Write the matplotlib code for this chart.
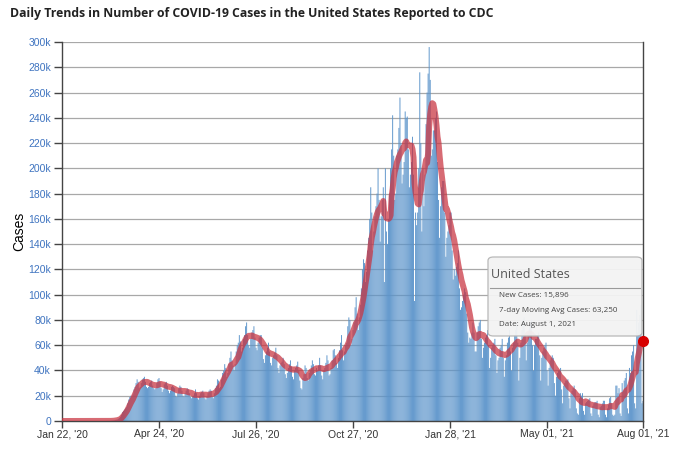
import matplotlib
matplotlib.use("Agg")
import matplotlib.pyplot as plt
from matplotlib.patches import FancyBboxPatch
from matplotlib.lines import Line2D
import pandas as pd

# daily new cases in thousands, one row per week (Wed..Tue), starting Jan 22, 2020
new_cases_k = [
    0, 0, 0, 0, 0, 0, 0,                # Jan 22
    0, 0, 0, 0, 0, 0, 0,                # Jan 29
    0, 0, 0, 0, 0, 0, 0,                # Feb 5
    0, 0, 0, 0, 0, 0, 0,                # Feb 12
    0, 0, 0, 0, 0, 0, 0,                # Feb 19
    0, 0, 0, 0, 0, 0.01, 0.02,          # Feb 26
    0.03, 0.05, 0.07, 0.1, 0.1, 0.2, 0.3,   # Mar 4
    0.4, 0.5, 0.8, 1.0, 1.2, 1.8, 2.5,  # Mar 11
    3.5, 5, 7, 8, 9, 10, 11,            # Mar 18
    14, 17, 19, 20, 19, 21, 25,         # Mar 25
    27, 30, 33, 31, 26, 27, 30,         # Apr 1
    33, 34, 35, 31, 27, 26, 27,         # Apr 8
    30, 31, 32, 28, 26, 25, 26,         # Apr 15
    30, 33, 34, 31, 26, 23, 25,         # Apr 22
    29, 30, 31, 28, 24, 22, 24,         # Apr 29
    27, 28, 27, 26, 20, 19, 22,         # May 6
    26, 28, 27, 24, 20, 19, 22,         # May 13
    24, 26, 25, 22, 19, 18, 19,         # May 20
    20, 22, 25, 22, 18, 17, 20,         # May 27
    22, 23, 24, 22, 18, 17, 19,         # Jun 3
    22, 24, 25, 24, 19, 18, 22,         # Jun 10
    26, 28, 33, 32, 26, 27, 33,         # Jun 17
    38, 40, 45, 42, 35, 38, 45,         # Jun 24
    50, 55, 48, 44, 40, 45, 55,         # Jul 1
    60, 62, 68, 63, 55, 58, 65,         # Jul 8
    68, 75, 78, 68, 60, 58, 65,         # Jul 15
    70, 72, 75, 66, 58, 56, 62,         # Jul 22
    66, 68, 68, 58, 49, 46, 52,         # Jul 29
    55, 58, 62, 55, 46, 44, 50,         # Aug 5
    52, 54, 58, 52, 42, 38, 44,         # Aug 12
    46, 47, 50, 45, 37, 34, 38,         # Aug 19
    42, 45, 48, 43, 35, 33, 40,         # Aug 26
    42, 44, 47, 40, 32, 26, 25,         # Sep 2
    34, 37, 44, 42, 34, 32, 38,         # Sep 9
    40, 44, 48, 45, 37, 36, 42,         # Sep 16
    40, 44, 50, 44, 36, 33, 40,         # Sep 23
    42, 46, 52, 48, 36, 37, 42,         # Sep 30
    48, 56, 57, 52, 46, 42, 50,         # Oct 7
    56, 62, 68, 56, 48, 55, 60,         # Oct 14
    62, 75, 82, 80, 60, 65, 72,         # Oct 21
    78, 90, 98, 85, 72, 82, 92,         # Oct 28
    105, 120, 128, 125, 110, 118, 135,  # Nov 4
    145, 160, 185, 165, 135, 150, 162,  # Nov 11
    170, 180, 200, 175, 142, 162, 175,  # Nov 18
    185, 110, 200, 150, 140, 160, 180,  # Nov 25
    200, 215, 242, 210, 175, 180, 210,  # Dec 2
    215, 232, 256, 220, 188, 195, 205,  # Dec 9
    245, 240, 241, 215, 185, 195, 205,  # Dec 16
    225, 195, 95, 165, 155, 165, 200,   # Dec 23
    276, 220, 150, 200, 170, 195, 235,  # Dec 30
    260, 275, 296, 270, 210, 215, 230,  # Jan 6, 2021
    230, 240, 245, 205, 175, 145, 170,  # Jan 13
    185, 190, 190, 165, 130, 145, 150,  # Jan 20
    155, 165, 165, 135, 112, 120, 115,  # Jan 27
    122, 125, 135, 105, 88, 90, 95,     # Feb 3
    100, 105, 102, 85, 70, 62, 66,      # Feb 10
    65, 70, 78, 70, 55, 55, 70,         # Feb 17
    75, 78, 80, 65, 50, 58, 62,         # Feb 24
    66, 68, 72, 60, 42, 50, 58,         # Mar 3
    60, 62, 65, 52, 38, 48, 50,         # Mar 10
    58, 60, 65, 50, 35, 48, 52,         # Mar 17
    62, 66, 72, 55, 40, 58, 62,         # Mar 24
    68, 72, 78, 62, 32, 50, 62,         # Mar 31
    72, 80, 82, 68, 48, 62, 70,         # Apr 7
    75, 78, 80, 60, 40, 60, 65,         # Apr 14
    65, 68, 70, 52, 32, 50, 55,         # Apr 21
    58, 60, 62, 40, 28, 42, 48,         # Apr 28
    50, 52, 50, 30, 20, 35, 38,         # May 5
    40, 40, 42, 25, 14, 28, 30,         # May 12
    32, 32, 33, 18, 10, 22, 24,         # May 19
    26, 28, 25, 10, 6, 5, 18,           # May 26
    22, 20, 22, 8, 5, 14, 15,           # Jun 2
    16, 17, 18, 6, 4, 12, 14,           # Jun 9
    15, 15, 16, 5, 3, 11, 12,           # Jun 16
    14, 16, 16, 5, 3, 10, 13,           # Jun 23
    18, 19, 14, 5, 4, 5, 28,            # Jun 30
    28, 22, 26, 6, 4, 30, 24,           # Jul 7
    32, 34, 38, 10, 6, 42, 38,          # Jul 14
    52, 55, 60, 14, 10, 88, 70,         # Jul 21
    78, 84, 92, 14, 15.896,             # Jul 28 .. Aug 1
]
start_date = "2020-01-22"

tick_dates = ["2020-01-22", "2020-04-24", "2020-07-26", "2020-10-27",
              "2021-01-28", "2021-05-01", "2021-08-01"]
tick_labels = ["Jan 22, '20", "Apr 24, '20", "Jul 26, '20", "Oct 27, '20",
               "Jan 28, '21", "May 01, '21", "Aug 01, '21"]
y_ticks_k = list(range(0, 301, 20))

tooltip_title = "United States"
tooltip_lines = ["New Cases: 15,896",
                 "7-day Moving Avg Cases: 63,250",
                 "Date: August 1, 2021"]

# build series
dates = pd.date_range(start_date, periods=len(new_cases_k), freq="D")
cases = pd.Series(new_cases_k, index=dates) * 1000
avg7 = cases.rolling(7, min_periods=1).mean()

W, H = 690, 454
fig = plt.figure(figsize=(W / 100, H / 100), dpi=100)
ax = fig.add_axes([62 / W, 1 - 421 / H, (643 - 62) / W, (421 - 42) / H])

bars = ax.bar(dates, cases.values, width=0.88, color="#5a93ca",
              linewidth=0, zorder=2)
for b in bars:
    b.set_snap(False)
ax.plot(dates, avg7.values, color="#c8323f", alpha=0.72, linewidth=4.3,
        solid_capstyle="round", zorder=3)
ax.plot(dates[-1], avg7.values[-1], "o", color="#d70000", markersize=7,
        zorder=5, clip_on=False)

ax.set_xlim(dates[0], dates[-1])
ax.set_ylim(0, 300000)

ax.set_yticks([v * 1000 for v in y_ticks_k])
ax.set_yticklabels([f"{v}k" if v else "0" for v in y_ticks_k],
                   color="#3f74c0", fontsize=7.5, family="Liberation Sans")
ax.set_xticks(pd.to_datetime(tick_dates))
ax.set_xticklabels(tick_labels, fontsize=7.5, color="#333333",
                   family="Liberation Sans")
ax.tick_params(axis="y", length=6, width=1, color="#444444", pad=2)
ax.tick_params(axis="x", length=5, width=1, color="#444444", pad=1)

ax.grid(axis="y", color="#a8a8a8", linewidth=0.9, zorder=1)
ax.set_axisbelow(True)
for side in ["left", "bottom", "right"]:
    ax.spines[side].set_color("#444444")
    ax.spines[side].set_linewidth(1)
ax.spines["top"].set_visible(False)

ax.set_ylabel("Cases", fontsize=10, family="Liberation Sans")
ax.yaxis.set_label_coords(-0.062, 0.5)

fig.text(10 / W, 1 - 14 / H, "Daily Trends in Number of COVID-19 Cases in the "
         "United States Reported to CDC", fontsize=8.8, fontweight="bold",
         family="Open Sans", va="center", ha="left", color="#222222")

# hover tooltip
def fx(px):
    return px / W

def fy(py):
    return 1 - py / H

box = FancyBboxPatch((fx(488), fy(336)), fx(642) - fx(488), fy(257) - fy(336),
                     boxstyle="round,pad=0,rounding_size=0.008",
                     transform=fig.transFigure, facecolor="#f3f3f3",
                     edgecolor="#b5b5b5", linewidth=0.9, alpha=0.95, zorder=6)
fig.add_artist(box)
fig.text(fx(491), fy(275), tooltip_title, fontsize=9, family="Open Sans",
         color="#555555", va="center", ha="left", zorder=7)
fig.add_artist(Line2D([fx(490), fx(640)], [fy(288), fy(288)],
                      transform=fig.transFigure, color="#999999",
                      linewidth=0.8, zorder=7))
for i, line in enumerate(tooltip_lines):
    fig.text(fx(499), fy(296 + 14.5 * i), line, fontsize=5.8,
             family="Open Sans", color="#444444", va="center", ha="left",
             zorder=7)

fig.savefig("out.png", dpi=100)
